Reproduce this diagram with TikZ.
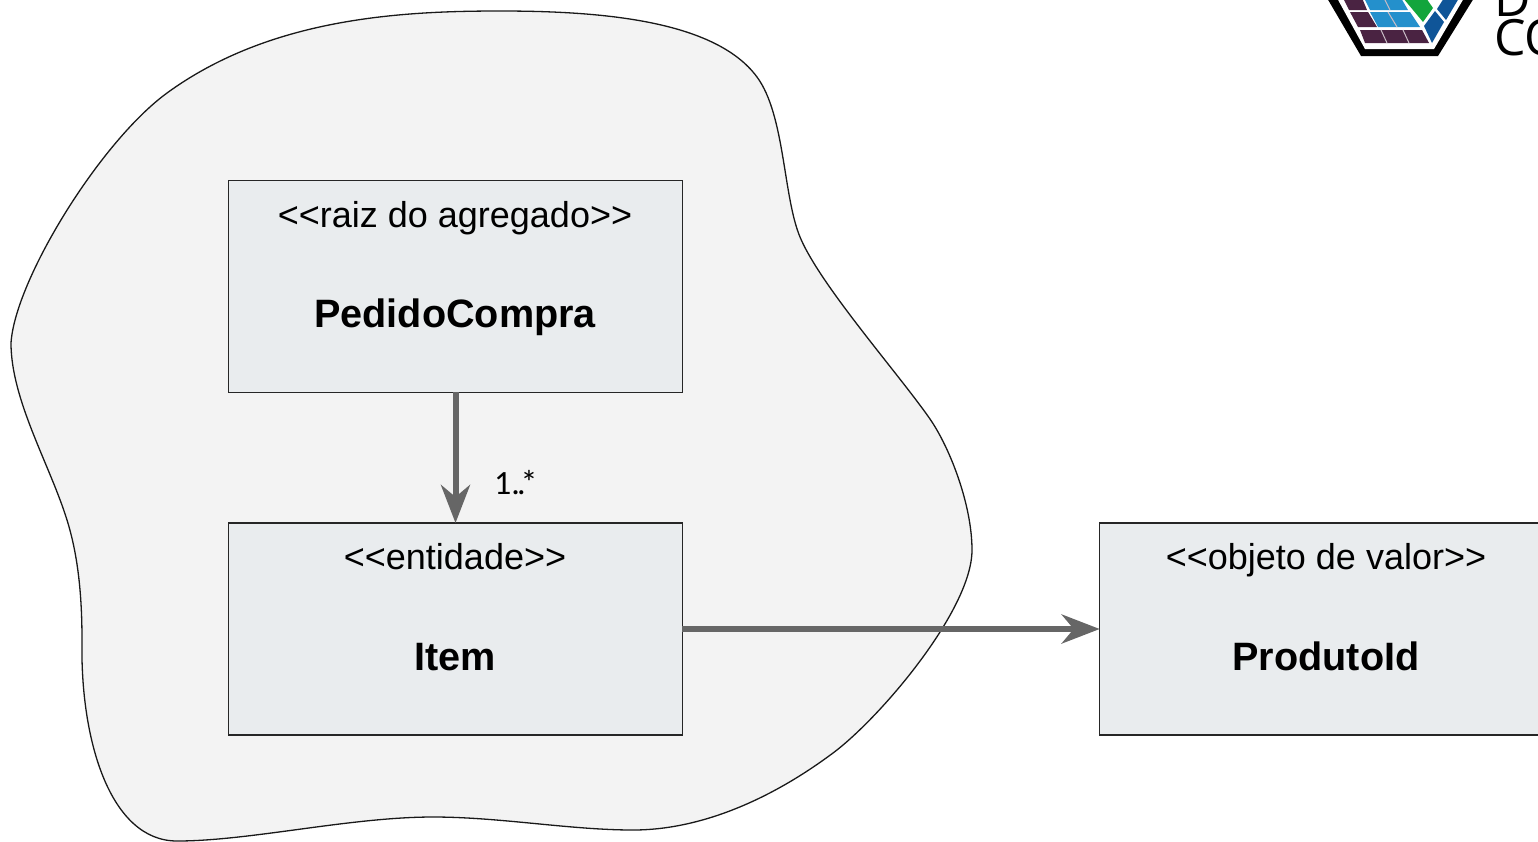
\documentclass[tikz,border=0pt]{standalone}
\usepackage{fontspec}
\setmainfont{Liberation Sans}
\newfontfamily\labelfont{Carlito}
\newfontfamily\logofont{Open Sans}
\usetikzlibrary{arrows.meta}
\definecolor{boxfill}{HTML}{E9ECEE}
\definecolor{blobfill}{HTML}{F3F3F3}
\definecolor{arrowgrey}{HTML}{666666}
\definecolor{logopurple}{HTML}{4A2342}
\definecolor{logoblue}{HTML}{2490CC}
\definecolor{logonavy}{HTML}{0F5598}
\definecolor{logogreen}{HTML}{12A53C}
\tikzset{
  x=1pt,y=-1pt,
  umlbox/.style={draw=black!85,line width=1.5pt,fill=boxfill,minimum width=453.6pt,minimum height=212pt,inner sep=0pt,outer sep=0pt,anchor=north west},
  stereo/.style={font=\fontsize{36}{40}\selectfont,anchor=base,inner sep=0pt},
  title/.style={font=\fontsize{39.6}{46}\selectfont\bfseries,anchor=base,inner sep=0pt},
  link/.style={draw=arrowgrey,line width=6pt,-{Stealth[length=38pt,width=29pt,inset=12pt]}},
  logotext/.style={font=\logofont\fontsize{50}{39}\selectfont,align=left,anchor=south west,inner sep=0pt},
}
\begin{document}
\begin{tikzpicture}
\useasboundingbox (0,0) rectangle (1538,841);
\clip (0,0) rectangle (1538,841);
\draw[fill=blobfill,draw=black!90,line width=1.3pt]
 (500,11) .. controls (400,11) and (270,18) .. (167,93)
 .. controls (100,142) and (15,280) .. (11,343)
 .. controls (11,400) and (50,465) .. (67,520)
 .. controls (77,552) and (82,590) .. (82,640)
 .. controls (80,740) and (110,841) .. (177,841)
 .. controls (250,841) and (350,817) .. (433,817)
 .. controls (500,817) and (570,830) .. (633,830)
 .. controls (700,830) and (770,800) .. (833,753)
 .. controls (880,718) and (972,610) .. (972,550)
 .. controls (972,505) and (950,448) .. (930,419)
 .. controls (898,373) and (820,285) .. (800,237)
 .. controls (783,196) and (785,115) .. (757,77)
 .. controls (715,20) and (600,11) .. (500,11) -- cycle;
% logo
\fill[black] (1327,-2) -- (1361,56) -- (1438,56) -- (1474,-2) -- cycle;
\fill[white] (1337,-2) -- (1365,49) -- (1434,49) -- (1464,-2) -- cycle;
\fill[logopurple] (1360,30) -- (1365,43) -- (1429,43) -- (1422,30) -- cycle;
\fill[logopurple] (1350,12) -- (1358,27) -- (1377,27) -- (1368,12) -- cycle;
\fill[logopurple] (1343,-2) -- (1349,10) -- (1367,10) -- (1362,-2) -- cycle;
\fill[logoblue] (1370,12) -- (1378,27) -- (1420,27) -- (1410,12) -- cycle;
\fill[logoblue] (1364,-2) -- (1370,10) -- (1408,10) -- (1401,-2) -- cycle;
\draw[white!70!logopurple,line width=1pt] (1381,30) -- (1387,43) (1403,30) -- (1409,43) (1388,12) -- (1397,27) (1384,-2) -- (1390,10);
\fill[logogreen] (1403,-2) -- (1423,22) -- (1433,8) -- (1426,-2) -- cycle;
\fill[logonavy] (1424,26) -- (1432,43) -- (1444,22) -- (1435,11) -- cycle;
\fill[logonavy] (1437,9) -- (1446,20) -- (1459,-2) -- (1444,-2) -- cycle;
\node[logotext] (logo) at (1494,56) {D\\CO};
% boxes
\node[umlbox] (pedido) at (228.7,180.3) {};
\node[umlbox] (item) at (228.7,523) {};
\node[umlbox] (produto) at (1099.7,523) {};
\node[stereo] (s1) at (455,227) {<{}<raiz do agregado>{}>};
\node[title] (t1) at (455,327) {PedidoCompra};
\node[stereo] (s2) at (455,569) {<{}<entidade>{}>};
\node[title] (t2) at (455,670) {Item};
\node[stereo] (s3) at (1326,569) {<{}<objeto de valor>{}>};
\node[title] (t3) at (1326,670) {ProdutoId};
\node[font=\labelfont\fontsize{34}{38}\selectfont,anchor=base west,inner sep=0pt] (mult) at (494,494) {1.\kern-3pt.\kern-5pt*};
\draw[link] (pedido.south) -- (item.north);
\draw[link] (item.east) -- (produto.west);
\end{tikzpicture}
\end{document}
